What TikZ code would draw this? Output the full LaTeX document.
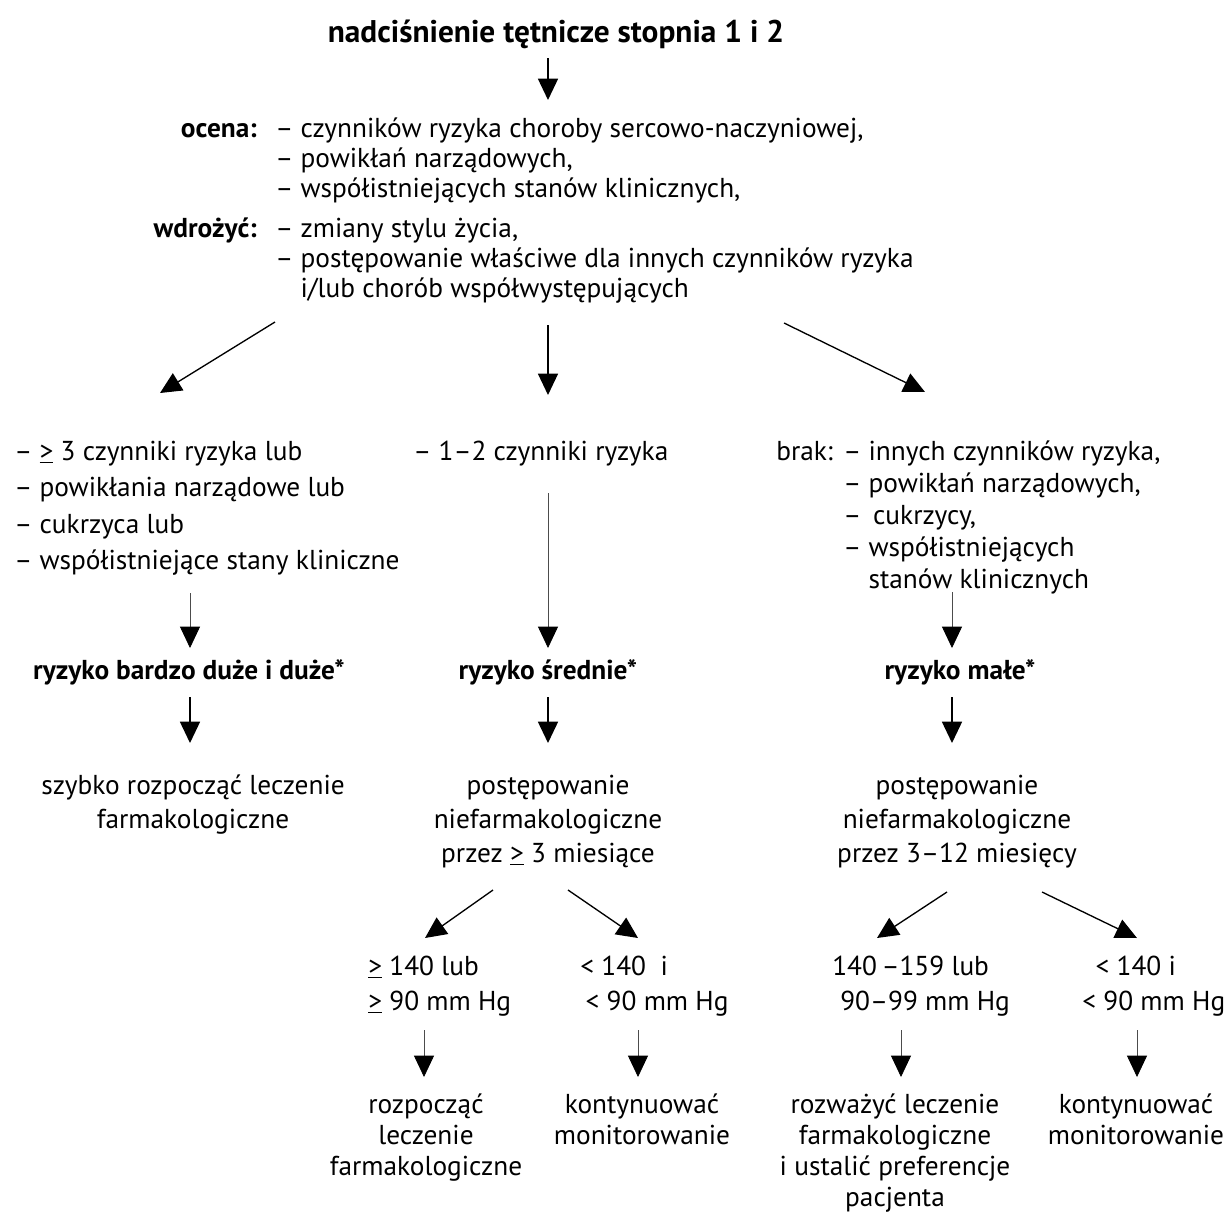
\documentclass[tikz,border=0pt]{standalone}
\usepackage{fontspec}
\setmainfont{PT Sans}
\usetikzlibrary{arrows.meta}
% fixed first-line height so that a block's top sits 18pt above its first baseline
\newcommand\firstln{\rule{0pt}{18pt}}
\begin{document}
\begin{tikzpicture}[x=0.75pt,y=-0.75pt,
  txt/.style={inner sep=0pt},
  lst/.style={txt, align=left, anchor=north west},
  ctr/.style={txt, align=center, anchor=north},
  hd/.style={inner sep=0pt, anchor=base, font=\bfseries\fontsize{20.5}{23}\selectfont},
  line/.style={inner sep=0pt, anchor=base west, font=\fontsize{20.5}{23}\selectfont},
  tip/.style={-{Triangle[length=16pt,width=15pt,color=black]}},
  thinarrow/.style={tip, line width=0.6pt, black!70},
  thickarrow/.style={tip, line width=1.2pt, black},
  diagarrow/.style={tip, line width=1pt, black},
]
\useasboundingbox[fill=white] (0,0) rectangle (1232,1214);

% ---- header ----
\node[hd, font=\bfseries\fontsize{23.5}{27}\selectfont] (title) at (556,42) {nadciśnienie tętnicze stopnia 1 i 2};
\coordinate (t1) at (548,58);
\coordinate (t2) at (548,100);
\draw[diagarrow, line width=1.2pt] (t1) -- (t2);

\node[hd, anchor=base east] (ocena) at (257,137) {ocena:};
\node[lst, font=\fontsize{20.5}{22.5}\selectfont] (ocenalist) at (275,113)
  {\firstln– czynników ryzyka choroby sercowo-naczyniowej,\\
   – powikłań narządowych,\\
   – współistniejących stanów klinicznych,};
\node[hd, anchor=base east] (wdrozyc) at (257,237) {wdrożyć:};
\node[lst, font=\fontsize{20.5}{22.5}\selectfont] (wdrozyclist) at (275,213)
  {\firstln– zmiany stylu życia,\\
   – postępowanie właściwe dla innych czynników ryzyka\\
   \phantom{– }i/lub chorób współwystępujących};

% ---- three branches ----
\coordinate (bl1) at (275,322);  \coordinate (bl2) at (160,393);
\coordinate (bc1) at (548,325);  \coordinate (bc2) at (548,395);
\coordinate (br1) at (784,323);  \coordinate (br2) at (925,392);
\draw[diagarrow] (bl1) -- (bl2);
\draw[diagarrow] (bc1) -- (bc2);
\draw[diagarrow] (br1) -- (br2);

\node[lst, font=\fontsize{20.5}{27.4}\selectfont] (highlist) at (14,436)
  {\firstln– \underline{>} 3 czynniki ryzyka lub\\
   – powikłania narządowe lub\\
   – cukrzyca lub\\
   – współistniejące stany kliniczne};
\node[line] (midlist) at (413,460) {– 1–2 czynniki ryzyka};
\node[line] (brak) at (776,460) {brak:};
\node[lst, font=\fontsize{20.5}{24}\selectfont] (braklist) at (843,436)
  {\firstln– innych czynników ryzyka,\\
   – powikłań narządowych,\\
   –\ \,cukrzycy,\\
   – współistniejących\\
   \phantom{– }stanów klinicznych};

\coordinate (l1) at (190,593);  \coordinate (l2) at (190,648);
\coordinate (c1) at (548,493);  \coordinate (c2) at (548,648);
\coordinate (r1) at (952,592);  \coordinate (r2) at (952,648);
\draw[thinarrow] (l1) -- (l2);
\draw[thinarrow] (c1) -- (c2);
\draw[thinarrow] (r1) -- (r2);

% ---- risk levels ----
\node[hd] (riskhigh) at (189,679) {ryzyko bardzo duże i duże*};
\node[hd] (riskmid) at (548,679) {ryzyko średnie*};
\node[hd] (risklow) at (960,679) {ryzyko małe*};

\coordinate (hl1) at (190,697);  \coordinate (hl2) at (190,743);
\coordinate (hc1) at (548,697);  \coordinate (hc2) at (548,743);
\coordinate (hr1) at (952,697);  \coordinate (hr2) at (952,743);
\draw[thickarrow] (hl1) -- (hl2);
\draw[thickarrow] (hc1) -- (hc2);
\draw[thickarrow] (hr1) -- (hr2);

\node[ctr, font=\fontsize{20.5}{25.5}\selectfont] (acthigh) at (193,770)
  {\firstln szybko rozpocząć leczenie\\farmakologiczne};
\node[ctr, font=\fontsize{20.5}{25.5}\selectfont] (actmid) at (548,770)
  {\firstln postępowanie\\niefarmakologiczne\\przez \underline{>} 3 miesiące};
\node[ctr, font=\fontsize{20.5}{25.5}\selectfont] (actlow) at (957,770)
  {\firstln postępowanie\\niefarmakologiczne\\przez 3–12 miesięcy};

% ---- pressure checks ----
\coordinate (sa1) at (493,890);  \coordinate (sa2) at (425,938);
\coordinate (sb1) at (568,890);  \coordinate (sb2) at (638,938);
\coordinate (sc1) at (947,892);  \coordinate (sc2) at (877,938);
\coordinate (sd1) at (1042,892); \coordinate (sd2) at (1137,938);
\draw[diagarrow] (sa1) -- (sa2);
\draw[diagarrow] (sb1) -- (sb2);
\draw[diagarrow] (sc1) -- (sc2);
\draw[diagarrow] (sd1) -- (sd2);

\node[lst, font=\fontsize{20.5}{26.25}\selectfont] (bpa) at (368,951)
  {\firstln\underline{>} 140 lub\\\underline{>} 90 mm Hg};
\node[lst, font=\fontsize{20.5}{26.25}\selectfont] (bpb) at (580,951)
  {\firstln< 140~~i\\\hspace{4pt}< 90 mm Hg};
\node[lst, font=\fontsize{20.5}{26.25}\selectfont] (bpc) at (832,951)
  {\firstln 140\,–159 lub\\\hspace{6pt}90–99 mm Hg};
\node[lst, font=\fontsize{20.5}{26.25}\selectfont] (bpd) at (1082,951)
  {\firstln\hspace{10pt}< 140 i\\< 90 mm Hg};

\coordinate (va1) at (424,1030);  \coordinate (va2) at (424,1077);
\coordinate (vb1) at (638,1030);  \coordinate (vb2) at (638,1077);
\coordinate (vc1) at (901,1030);  \coordinate (vc2) at (901,1077);
\coordinate (vd1) at (1137,1030); \coordinate (vd2) at (1137,1077);
\draw[thinarrow] (va1) -- (va2);
\draw[thinarrow] (vb1) -- (vb2);
\draw[thinarrow] (vc1) -- (vc2);
\draw[thinarrow] (vd1) -- (vd2);

% ---- outcomes ----
\node[ctr, font=\fontsize{20.5}{23.25}\selectfont] (outa) at (426,1089)
  {\firstln rozpocząć\\leczenie\\farmakologiczne};
\node[ctr, font=\fontsize{20.5}{23.25}\selectfont] (outb) at (642,1089)
  {\firstln kontynuować\\monitorowanie};
\node[ctr, font=\fontsize{20.5}{23.25}\selectfont] (outc) at (895,1089)
  {\firstln rozważyć leczenie\\farmakologiczne\\i ustalić preferencje\\pacjenta};
\node[ctr, font=\fontsize{20.5}{23.25}\selectfont] (outd) at (1136,1089)
  {\firstln kontynuować\\monitorowanie};
\end{tikzpicture}
\end{document}
